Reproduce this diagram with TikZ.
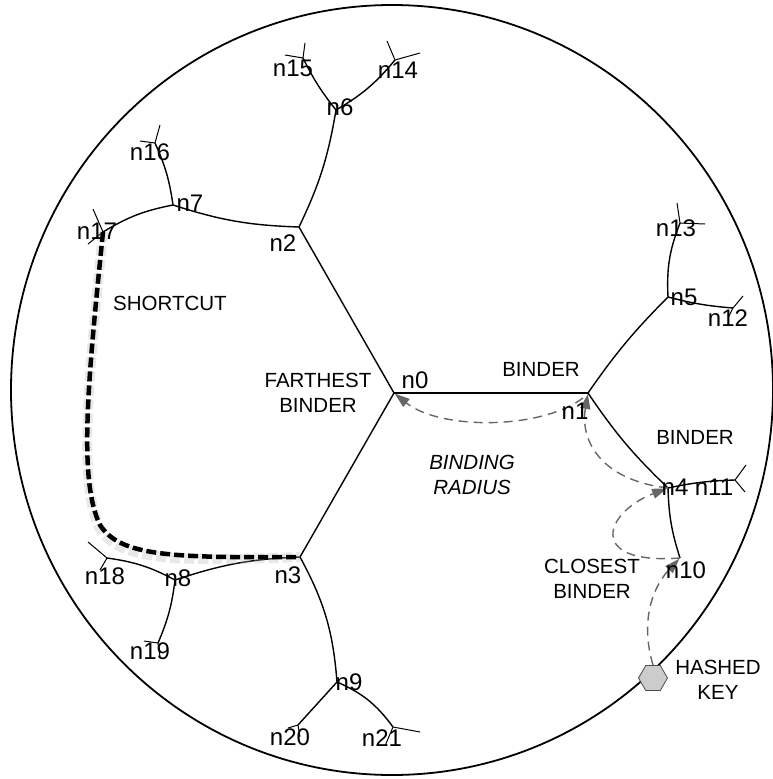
\documentclass[tikz,border=0pt]{standalone}
\usepackage{fontspec}
\setmainfont{Liberation Sans}
\usetikzlibrary{arrows.meta,shapes.geometric}

\tikzset{
  lbl/.style={font=\fontsize{24}{24}\selectfont,inner sep=0pt},
  txt/.style={font=\fontsize{20.5}{25}\selectfont,align=center,inner sep=0pt},
  link/.style={line width=1.4pt},
  stub/.style={line width=1pt},
  hop/.style={draw=black!60,line width=1.4pt,dash pattern=on 9pt off 6pt,
    -{Triangle[length=15pt,width=10pt]},shorten >=1pt},
  shortcut/.style={line width=4.5pt,dash pattern=on 10pt off 4pt}
}

\begin{document}
\begin{tikzpicture}[x=1pt,y=1pt]
\useasboundingbox (0,0) rectangle (773,-779);
\draw[line width=1.8pt] (392,-390) ellipse (381 and 385);

\coordinate (n0) at (394,-393);
\coordinate (n1) at (588,-393);
\coordinate (n2) at (299,-227);
\coordinate (n3) at (300,-557);
\coordinate (n4) at (668,-488);
\coordinate (n5) at (668,-297);
\coordinate (n6) at (336,-110);
\coordinate (n7) at (173,-205);
\coordinate (n8) at (175,-580);
\coordinate (n9) at (337,-682);
\coordinate (n10) at (680,-558);
\coordinate (n11) at (735,-480);
\coordinate (n12) at (733,-308);
\coordinate (n13) at (680,-223);
\coordinate (n14) at (395,-60);
\coordinate (n15) at (303,-58);
\coordinate (n16) at (155,-143);
\coordinate (n17) at (103,-232);
\coordinate (n18) at (107,-558);
\coordinate (n19) at (158,-643);
\coordinate (n20) at (298,-725);
\coordinate (n21) at (393,-727);

\draw[link] (n0) -- (n1);
\draw[link] (n0) -- (n2);
\draw[link] (n0) -- (n3);
\draw[link] (n1) to[bend left=5] (n5);
\draw[link] (n1) to[bend right=6] (n4);
\draw[link] (n2) to[bend right=8] (n6);
\draw[link] (n2) to[bend left=8] (n7);
\draw[link] (n3) to[bend right=8] (n8);
\draw[link] (n3) to[bend left=12] (n9);
\draw[link] (n4) to[bend left=5] (n11);
\draw[link] (n4) to[bend right=8] (n10);
\draw[link] (n5) to[bend left=12] (n13);
\draw[link] (n5) to[bend right=5] (n12);
\draw[link] (n6) to[bend right=10] (n14);
\draw[link] (n6) to[bend left=6] (n15);
\draw[link] (n7) to[bend right=8] (n16);
\draw[link] (n7) to[bend right=10] (n17);
\draw[link] (n8) to[bend right=10] (n18);
\draw[link] (n8) to[bend left=8] (n19);
\draw[link] (n9) -- (n20);
\draw[link] (n9) to[bend left=15] (n21);

\draw[stub] (n14) -- ++(-8,19) (n14) -- ++(25,7);
\draw[stub] (n15) -- ++(2,15) (n15) -- ++(-18,3);
\draw[stub] (n16) -- ++(5,18) (n16) -- ++(-15,2);
\draw[stub] (n17) -- ++(-10,23) (n17) -- ++(-15,-12);
\draw[stub] (n13) -- ++(-3,20) (n13) -- ++(25,-1);
\draw[stub] (n12) -- ++(10,12) (n12) -- ++(-5,-10);
\draw[stub] (n11) -- ++(11,15) (n11) -- ++(10,-12);
\draw[stub] (n18) -- ++(-19,16) (n18) -- ++(-7,-12);
\draw[stub] (n19) -- ++(-14,2) (n19) -- ++(2,-14);
\draw[stub] (n20) -- ++(-10,-3) (n20) -- ++(2,-12);
\draw[stub] (n21) -- ++(27,-5) (n21) -- ++(-8,-19);

\draw[shortcut,black!30,line width=10pt,opacity=.3,yshift=-4pt] (n17) .. controls (88,-380) and (78,-480) .. (100,-525)
  .. controls (120,-556) and (170,-558) .. (n3);
\draw[shortcut] (n17) .. controls (88,-380) and (78,-480) .. (100,-525)
  .. controls (120,-556) and (170,-558) .. (n3);

\node[regular polygon,regular polygon sides=6,draw=black!70,fill=black!20,
  minimum size=29pt,inner sep=0pt,line width=0.8pt] (key) at (653,-678) {};

\draw[hop] (key.north) .. controls (641,-625) and (650,-590) .. (n10);
\draw[hop] (n10) .. controls (585,-565) and (605,-512) .. (n4);
\draw[hop] (n4) .. controls (600,-480) and (580,-440) .. (n1);
\draw[hop] (583,-398) .. controls (540,-430) and (440,-430) .. (n0);

\node[lbl] (t0) at (415,-380) {n0};
\node[lbl] (t1) at (575,-411) {n1};
\node[lbl] (t2) at (283,-243) {n2};
\node[lbl] (t3) at (288,-575) {n3};
\node[lbl] (t4) at (675,-487) {n4};
\node[lbl] (t5) at (684,-297) {n5};
\node[lbl] (t6) at (340,-107) {n6};
\node[lbl] (t7) at (190,-203) {n7};
\node[lbl] (t8) at (178,-578) {n8};
\node[lbl] (t9) at (349,-682) {n9};
\node[lbl] (t10) at (686,-570) {n10};
\node[lbl] (t11) at (714,-487) {n11};
\node[lbl] (t12) at (728,-318) {n12};
\node[lbl] (t13) at (676,-228) {n13};
\node[lbl] (t14) at (398,-70) {n14};
\node[lbl] (t15) at (293,-68) {n15};
\node[lbl] (t16) at (150,-152) {n16};
\node[lbl] (t17) at (97,-231) {n17};
\node[lbl] (t18) at (105,-576) {n18};
\node[lbl] (t19) at (150,-651) {n19};
\node[lbl] (t20) at (290,-737) {n20};
\node[lbl] (t21) at (382,-738) {n21};

\node[txt] (far) at (318,-393) {FARTHEST\\BINDER};
\node[txt] (bnd1) at (541,-369) {BINDER};
\node[txt] (bnd2) at (695,-437) {BINDER};
\node[txt,font=\fontsize{20.5}{25}\selectfont\itshape] (rad) at (472,-475) {BINDING\\RADIUS};
\node[txt] (close) at (592,-579) {CLOSEST\\BINDER};
\node[txt] (hkey) at (718,-680) {HASHED\\KEY};
\node[txt] (short) at (170,-303) {SHORTCUT};
\end{tikzpicture}
\end{document}
